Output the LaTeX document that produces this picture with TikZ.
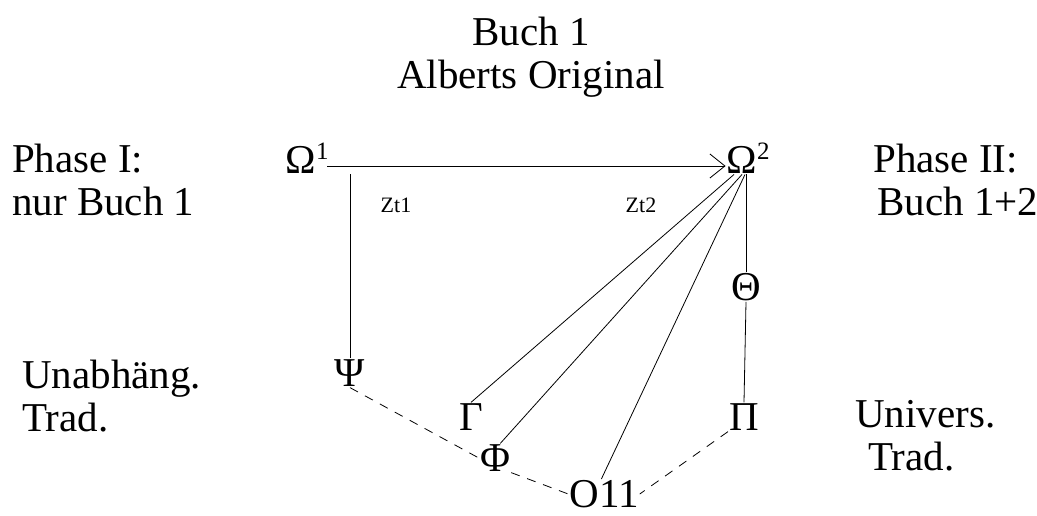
\documentclass[tikz,border=0pt]{standalone}
\usepackage{fontspec}
\setmainfont{Liberation Serif}
\usetikzlibrary{positioning, calc, arrows.meta}
\newcommand{\supnum}[1]{\rlap{\raisebox{14pt}{\fontsize{25}{25}\selectfont #1}}}
\tikzset{
  every node/.style={font=\fontsize{41}{43}\selectfont, inner sep=0pt},
  txt/.style={align=left, anchor=west},
  grk/.style={inner sep=1pt},
  zt/.style={font=\fontsize{22}{24}\selectfont},
  link/.style={line width=0.8pt},
  trad/.style={line width=0.8pt, dash pattern=on 9pt off 8pt},
}

\begin{document}
\begin{tikzpicture}[x=1pt, y=-1pt]
\useasboundingbox (0,0) rectangle (1037,515);
% side texts
\node[align=center] (title) at (531,57) {Buch 1\\Alberts Original};
\node[txt] (ph1) at (12,180) {Phase I:\\nur Buch 1};
\node[txt] (ph2) at (873,180) {Phase II:\\\hspace*{4pt}Buch 1+2};
\node[txt] (unab) at (22,396) {Unabhäng.\\Trad.};
\node[txt] (univ) at (855,436) {Univers.\\\hspace*{13pt}Trad.};
% the two phases
\node[grk] (o1) at (301,158) {Ω\supnum{1}};
\node[grk] (o2) at (742,158) {Ω\supnum{2}};
\node[zt] (zt1) at (396,205) {Zt1};
\node[zt] (zt2) at (641,205) {Zt2};
% witnesses
\node[grk] (psi)   at (350,373) {Ψ};
\node[grk] (gamma) at (471,417) {Γ};
\node[grk] (phi)   at (495,458) {Φ};
\node[grk] (o11)   at (604,494) {O11};
\node[grk] (theta) at (746,287) {Θ};
\node[grk] (pi)    at (744,417) {Π};

\draw[link, -{Straight Barb[length=15pt, width=24pt]}]
  ([xshift=10pt, yshift=-8pt]o1.east) -- ([yshift=-8pt]o2.west);
\draw[link] (psi.north) -- (psi.north |- o1.south);
\draw[link] ([xshift=-8pt]o2.south) -- (gamma.north);
\draw[link] (o2.south) -- (phi.70);
\draw[link] ([xshift=3pt]o2.south) -- (o11.100);
\draw[link] (theta.north) -- (theta.north |- o2.south);
\draw[link] (theta.south) -- (pi.north);
% lost links
\draw[trad] (psi.south) -- (phi.west);
\draw[trad] (phi.south east) -- (o11.west);
\draw[trad] (pi.south west) -- (o11.east);
\end{tikzpicture}
\end{document}
